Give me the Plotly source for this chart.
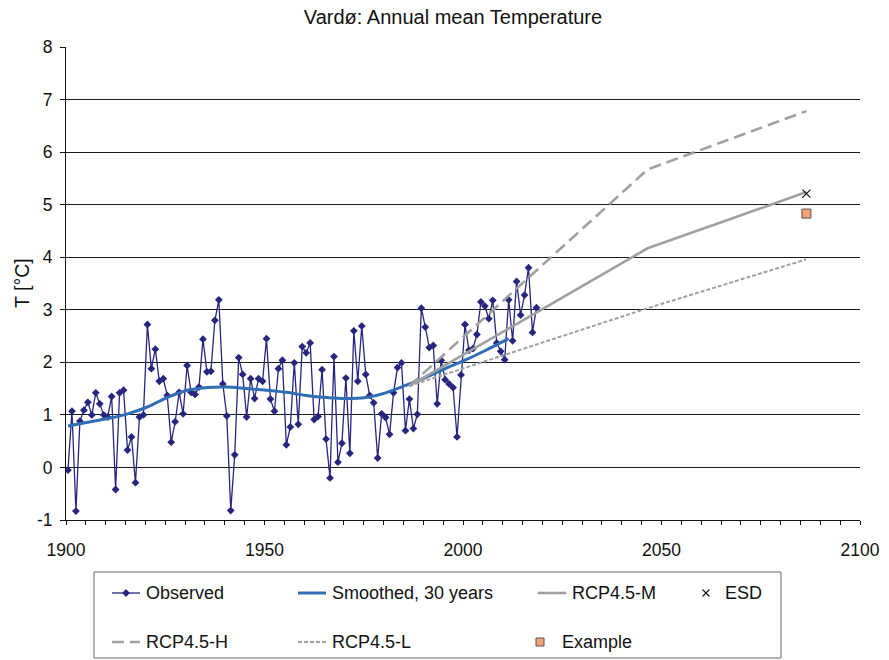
import plotly.graph_objects as go

# ---- data -------------------------------------------------------------
obs_years = list(range(1900, 2019))
obs_temp = [
    -0.05, 1.07, -0.83, 0.88, 1.09, 1.24, 1.00, 1.42, 1.21, 1.00,
    0.96, 1.35, -0.42, 1.42, 1.47, 0.33, 0.58, -0.29, 0.96, 1.00,
    2.72, 1.88, 2.25, 1.64, 1.69, 1.37, 0.48, 0.87, 1.43, 1.02,
    1.94, 1.43, 1.39, 1.53, 2.44, 1.82, 1.83, 2.80, 3.19, 1.59,
    0.98, -0.82, 0.24, 2.09, 1.77, 0.96, 1.69, 1.31, 1.69, 1.64,
    2.45, 1.30, 1.07, 1.88, 2.04, 0.43, 0.77, 1.99, 0.82, 2.30,
    2.18, 2.37, 0.91, 0.97, 1.86, 0.54, -0.20, 2.11, 0.10, 0.46,
    1.70, 0.27, 2.60, 1.64, 2.69, 1.77, 1.37, 1.23, 0.18, 1.02,
    0.95, 0.63, 1.42, 1.90, 1.99, 0.70, 1.30, 0.74, 1.01, 3.03,
    2.67, 2.28, 2.32, 1.21, 2.04, 1.67, 1.59, 1.52, 0.58, 1.76,
    2.72, 2.23, 2.26, 2.53, 3.15, 3.07, 2.83, 3.18, 2.37, 2.21,
    2.05, 3.19, 2.41, 3.54, 2.90, 3.28, 3.80, 2.57, 3.04,
]

smooth_years = [1900, 1905, 1910, 1915, 1920, 1925, 1930, 1935, 1940, 1945,
                1950, 1955, 1960, 1965, 1970, 1975, 1980, 1985, 1990, 1995,
                2000, 2005, 2011]
smooth_temp = [0.79, 0.86, 0.93, 1.02, 1.15, 1.33, 1.47, 1.52, 1.53, 1.50,
               1.47, 1.43, 1.37, 1.33, 1.31, 1.33, 1.42, 1.56, 1.71, 1.88,
               2.04, 2.22, 2.45]

proj_years = [1986, 2046, 2086]
rcp_m = [1.55, 4.17, 5.24]
rcp_h = [1.55, 5.67, 6.78]
rcp_l = [1.55, 3.03, 3.96]

esd_year = [2086]
esd_temp = [5.21]
example_year = [2086]
example_temp = [4.83]

x_ticks = [1900, 1950, 2000, 2050, 2100]
y_ticks = list(range(-1, 9))

# ---- styling ----------------------------------------------------------
W, H = 889, 660
PL, PR, PT, PB = 66, 860, 47, 520          # plot-area edges in pixels
FONT = "Liberation Sans, Arial, sans-serif"
NAVY = "#26267f"
BLUE = "#2f6db5"
GREY = "#a0a0a0"
ORANGE = "#f2a274"
INK = "#111111"


def mid(years):
    """Annual values are placed at mid-year."""
    return [y + 0.5 for y in years]


fig = go.Figure()

# ---- chart series -------------------------------------------------------
fig.add_trace(go.Scatter(
    x=mid(obs_years), y=obs_temp, mode="lines+markers", name="Observed",
    line=dict(color=NAVY, width=1.3),
    marker=dict(symbol="diamond", size=6, color=NAVY),
))
fig.add_trace(go.Scatter(
    x=mid(smooth_years), y=smooth_temp, mode="lines", name="Smoothed, 30 years",
    line=dict(color=BLUE, width=3, shape="spline", smoothing=1.0),
))
fig.add_trace(go.Scatter(
    x=mid(proj_years), y=rcp_m, mode="lines", name="RCP4.5-M",
    line=dict(color=GREY, width=2.6),
))
fig.add_trace(go.Scatter(
    x=mid(esd_year), y=esd_temp, mode="markers", name="ESD",
    marker=dict(symbol="x-thin-open", size=8, color=INK,
                line=dict(color=INK, width=1.2)),
))
fig.add_trace(go.Scatter(
    x=mid(proj_years), y=rcp_h, mode="lines", name="RCP4.5-H",
    line=dict(color=GREY, width=2.6, dash="12px,6px"),
))
fig.add_trace(go.Scatter(
    x=mid(proj_years), y=rcp_l, mode="lines", name="RCP4.5-L",
    line=dict(color=GREY, width=2, dash="4px,2px"),
))
fig.add_trace(go.Scatter(
    x=mid(example_year), y=example_temp, mode="markers", name="Example",
    marker=dict(symbol="square", size=9, color=ORANGE,
                line=dict(color="#555", width=1)),
))
for tr in fig.data:
    tr.showlegend = False

# ---- legend drawn in a pixel-space overlay ------------------------------
ROW1, ROW2 = 593, 642
leg = dict(xaxis="x2", yaxis="y2", showlegend=False, hoverinfo="skip")

fig.add_trace(go.Scatter(x=[112, 140], y=[ROW1, ROW1], mode="lines",
                         line=dict(color=NAVY, width=1.3), **leg))
fig.add_trace(go.Scatter(x=[126], y=[ROW1], mode="markers",
                         marker=dict(symbol="diamond", size=6, color=NAVY), **leg))
fig.add_trace(go.Scatter(x=[298, 326], y=[ROW1, ROW1], mode="lines",
                         line=dict(color=BLUE, width=3), **leg))
fig.add_trace(go.Scatter(x=[538, 566], y=[ROW1, ROW1], mode="lines",
                         line=dict(color=GREY, width=2.6), **leg))
fig.add_trace(go.Scatter(x=[706], y=[ROW1], mode="markers",
                         marker=dict(symbol="x-thin-open", size=7, color=INK,
                                     line=dict(color=INK, width=1.1)), **leg))
fig.add_trace(go.Scatter(x=[112, 140], y=[ROW2, ROW2], mode="lines",
                         line=dict(color=GREY, width=2.6, dash="12px,6px"), **leg))
fig.add_trace(go.Scatter(x=[298, 326], y=[ROW2, ROW2], mode="lines",
                         line=dict(color=GREY, width=2, dash="4px,2px"), **leg))
fig.add_trace(go.Scatter(x=[540], y=[ROW2], mode="markers",
                         marker=dict(symbol="square", size=8, color=ORANGE,
                                     line=dict(color="#555", width=1)), **leg))

legend_text = [
    ("Observed", 144, ROW1), ("Smoothed, 30 years", 330, ROW1),
    ("RCP4.5-M", 570, ROW1), ("ESD", 723, ROW1),
    ("RCP4.5-H", 144, ROW2), ("RCP4.5-L", 330, ROW2),
    ("Example", 560, ROW2),
]
annotations = [
    dict(text=t, x=x, y=y, xref="x2", yref="y2", xanchor="left",
         yanchor="middle", showarrow=False,
         font=dict(family=FONT, size=18, color=INK))
    for t, x, y in legend_text
]

# y-axis title
annotations.append(dict(
    text="T [°C]", x=22 / W, y=1 - 283 / H, xref="paper", yref="paper",
    textangle=-90, showarrow=False, xanchor="center", yanchor="middle",
    font=dict(family=FONT, size=19.5, color=INK),
))

shapes = [dict(
    type="rect", xref="paper", yref="paper",
    x0=94 / W, x1=781 / W, y0=1 - 658 / H, y1=1 - 572 / H,
    line=dict(color="#666", width=1), fillcolor="rgba(0,0,0,0)", layer="below",
)]

fig.update_layout(
    width=W, height=H,
    margin=dict(l=0, r=0, t=0, b=0, pad=0, autoexpand=False),
    paper_bgcolor="white", plot_bgcolor="rgba(0,0,0,0)",
    font=dict(family=FONT, color=INK),
    title=dict(text="Vardø: Annual mean Temperature", x=453 / W, y=1 - 17 / H,
               xanchor="center", yanchor="middle", xref="paper", yref="paper",
               automargin=False,
               font=dict(family=FONT, size=20, color=INK)),
    xaxis=dict(
        domain=[PL / W, PR / W], range=[1900, 2100], automargin=False,
        tickmode="array", tickvals=x_ticks, ticktext=[str(v) for v in x_ticks],
        showgrid=False, zeroline=False,
        showline=True, linecolor=INK, linewidth=1,
        ticks="outside", ticklen=4, tickcolor=INK,
        minor=dict(dtick=5, tick0=1900, ticks="outside", ticklen=4,
                   tickcolor=INK, showgrid=False),
        ticklabelstandoff=10,
        tickfont=dict(family=FONT, size=17.5, color=INK),
        fixedrange=True,
    ),
    yaxis=dict(
        domain=[1 - PB / H, 1 - PT / H], range=[-1, 8], automargin=False,
        tickmode="array", tickvals=y_ticks, ticktext=[str(v) for v in y_ticks],
        showgrid=True, gridcolor="#1a1a1a", gridwidth=1, zeroline=False,
        showline=True, linecolor=INK, linewidth=1,
        ticks="outside", ticklen=5, tickcolor=INK,
        ticklabelstandoff=4,
        tickfont=dict(family=FONT, size=17.5, color=INK),
        fixedrange=True,
    ),
    xaxis2=dict(domain=[0, 1], range=[0, W], visible=False, anchor="y2",
                automargin=False, fixedrange=True),
    yaxis2=dict(domain=[0, 1], range=[H, 0], visible=False, anchor="x2",
                automargin=False, fixedrange=True),
    annotations=annotations,
    shapes=shapes,
    showlegend=False,
)

fig.write_html("out.html")
